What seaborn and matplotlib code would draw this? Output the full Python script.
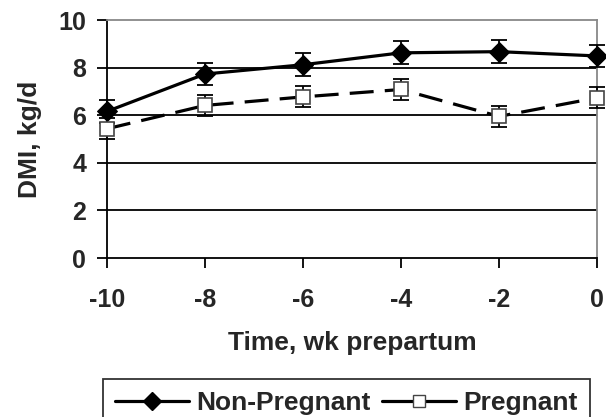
import matplotlib
matplotlib.use("Agg")
import matplotlib.pyplot as plt
import seaborn as sns
import pandas as pd
from matplotlib.lines import Line2D

weeks = [-10, -8, -6, -4, -2, 0]
non_pregnant = [6.16, 7.73, 8.12, 8.62, 8.67, 8.49]
non_pregnant_err = [0.48, 0.48, 0.48, 0.48, 0.48, 0.48]
pregnant = [5.43, 6.41, 6.77, 7.08, 5.95, 6.73]
pregnant_err = [0.44, 0.44, 0.44, 0.44, 0.44, 0.44]
series_names = ["Non-Pregnant", "Pregnant"]
y_ticks = [0, 2, 4, 6, 8, 10]

sns.set_theme(style="white")
plt.rcParams['font.family'] = ['Liberation Sans', 'DejaVu Sans']
plt.rcParams['font.weight'] = 'bold'

df = pd.DataFrame({
    "week": weeks * 2,
    "dmi": non_pregnant + pregnant,
    "group": [series_names[0]] * len(weeks) + [series_names[1]] * len(weeks),
})

fig = plt.figure(figsize=(6.06, 4.17), dpi=100)
ax = fig.add_axes([107/606, 1-258/417, 490/606, 238/417])

for y in y_ticks[1:-1]:
    ax.axhline(y, color="black", lw=1.3, zorder=1)

ax.errorbar(weeks, non_pregnant, yerr=non_pregnant_err, fmt="none", ecolor="black",
            elinewidth=1.3, capsize=6, capthick=1.3, zorder=3, clip_on=False)
ax.errorbar(weeks, pregnant, yerr=pregnant_err, fmt="none", ecolor="black",
            elinewidth=1.3, capsize=6, capthick=1.3, zorder=3, clip_on=False)

sub1 = df[df.group == series_names[0]]
sub2 = df[df.group == series_names[1]]
sns.lineplot(data=sub1, x="week", y="dmi", ax=ax, color="black", lw=2.3,
             marker="D", markersize=10, markerfacecolor="black", markeredgecolor="black",
             zorder=4, clip_on=False, legend=False)
sns.lineplot(data=sub2, x="week", y="dmi", ax=ax, color="black", lw=2.3,
             marker="s", markersize=9.5, markerfacecolor="white",
             markeredgecolor="#444444", markeredgewidth=1.2,
             zorder=4, clip_on=False, legend=False)
ax.lines[-1].set_dashes((7.5, 3.5))

ax.set_xlim(-10, 0)
ax.set_ylim(0, 10)
ax.set_xticks(weeks)
ax.set_yticks(y_ticks)
ax.set_xticklabels([str(w) for w in weeks], fontsize=18, fontweight="bold")
ax.set_yticklabels([str(y) for y in y_ticks], fontsize=18, fontweight="bold")
ax.tick_params(axis="x", direction="out", length=7.5, width=1.3, pad=14, color="black", bottom=True)
ax.tick_params(axis="y", direction="out", length=7, width=1.3, pad=8, color="black", left=True)

for side in ["left", "bottom"]:
    ax.spines[side].set_color("black")
    ax.spines[side].set_linewidth(1.3)
for side in ["top", "right"]:
    ax.spines[side].set_color("#888888")
    ax.spines[side].set_linewidth(1.3)

ax.set_xlabel("Time, wk prepartum", fontsize=19, fontweight="bold", labelpad=14)
ax.set_ylabel("DMI, kg/d", fontsize=19, fontweight="bold", labelpad=12)

handles = [
    Line2D([], [], color="black", lw=2.3, marker="D", markersize=9, markerfacecolor="black"),
    Line2D([], [], color="black", lw=2.3, marker="s", markersize=8, markerfacecolor="white",
           markeredgecolor="#444444"),
]
leg = fig.legend(handles, series_names, loc="upper left",
                 bbox_to_anchor=(103/606, 1-379/417),
                 ncol=2, frameon=True, fancybox=False,
                 prop={"weight": "bold", "size": 19}, handlelength=2.8, borderaxespad=0,
                 borderpad=0.45, columnspacing=0.4, handletextpad=0.3)
leg.get_frame().set_edgecolor("black")
leg.get_frame().set_linewidth(1.3)

fig.savefig("out.png", dpi=100)
